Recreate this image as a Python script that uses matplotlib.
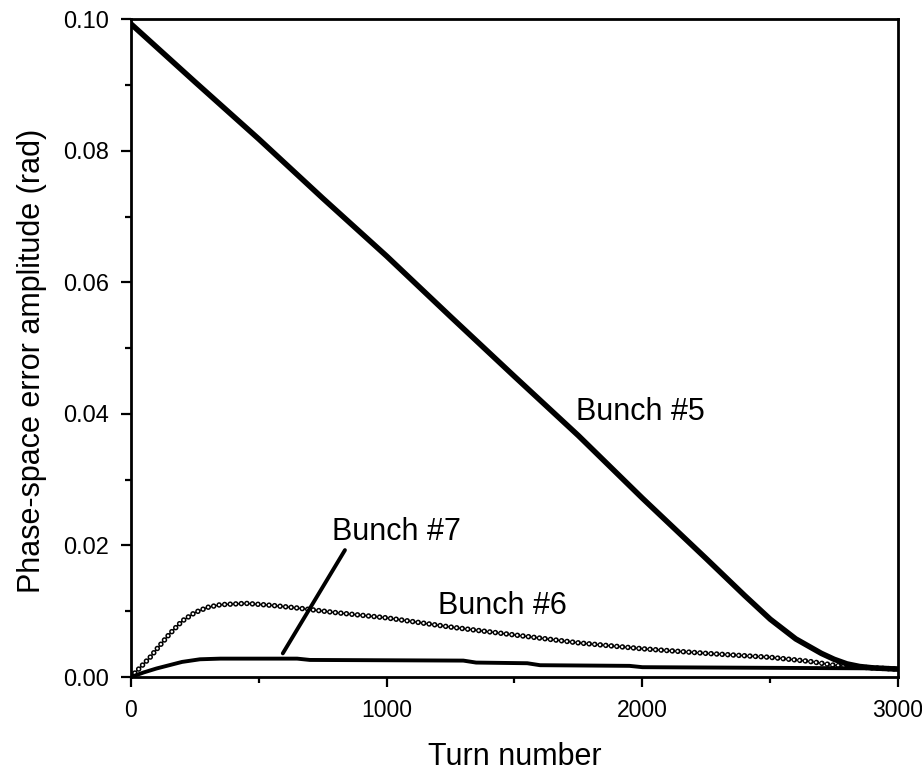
import matplotlib
matplotlib.use("Agg")
import matplotlib.pyplot as plt
from matplotlib.ticker import MultipleLocator, FormatStrFormatter

plt.rcParams['font.family'] = ['Liberation Sans', 'DejaVu Sans']

# Bunch #5
turns5 = [0, 250, 500, 750, 1000, 1250, 1500, 1750, 2000, 2250, 2400, 2500,
          2600, 2700, 2750, 2800, 2850, 2900, 3000]
amp5 = [0.0993, 0.0905, 0.0818, 0.0728, 0.0640, 0.0548, 0.0457, 0.0367, 0.0272,
        0.0180, 0.0124, 0.0088, 0.0058, 0.0036, 0.0027, 0.0020, 0.0016, 0.0014, 0.0012]

# Bunch #6
turns6 = [0, 25, 50, 75, 100, 150, 200, 250, 300, 350, 450, 550, 650, 800, 1000,
          1250, 1500, 1750, 2000, 2250, 2500, 2650, 2750, 2850, 3000]
amp6 = [0.0, 0.0010, 0.0020, 0.0030, 0.0042, 0.0065, 0.0085, 0.0098, 0.0106, 0.0110,
        0.0112, 0.0109, 0.0105, 0.0098, 0.0090, 0.0076, 0.0064, 0.0052, 0.0043,
        0.0036, 0.0030, 0.0024, 0.0018, 0.0015, 0.0012]

# Bunch #7
turns7 = [0, 50, 100, 150, 200, 270, 350, 650, 700, 1300, 1350, 1550, 1600,
          1950, 2000, 3000]
amp7 = [0.0, 0.0007, 0.0013, 0.0018, 0.0023, 0.0027, 0.0028, 0.0028, 0.0026,
        0.0025, 0.0022, 0.0021, 0.0018, 0.0017, 0.0015, 0.0013]

fig = plt.figure(figsize=(9.22, 7.72), dpi=100)
ax = fig.add_axes([0.142, 0.123, 0.832, 0.852])

# bunch 6: thin line with a chain of small open circles
ax.plot(turns6, amp6, color="black", lw=0.9)
P = 4.0
ax.plot(turns6, amp6, color="black", lw=4.0, dashes=(0.001, P / 4.0),
        dash_capstyle="round")
ax.plot(turns6, amp6, color="white", lw=1.8, dashes=(0.001, P / 1.8),
        dash_capstyle="round")

ax.plot(turns7, amp7, color="black", lw=2.8, solid_joinstyle="miter")
ax.plot(turns5, amp5, color="black", lw=4.0)

ax.text(1991, 0.0403, "Bunch #5", fontsize=22, ha="center", va="center")
ax.text(1451, 0.0108, "Bunch #6", fontsize=22, ha="center", va="center")
ax.text(1040, 0.0220, "Bunch #7", fontsize=22, ha="center", va="center")
ax.annotate("", xy=(594, 0.0036), xytext=(837, 0.0193),
            arrowprops=dict(arrowstyle="-", lw=2.8, color="black",
                            shrinkA=0, shrinkB=0))

ax.set_xlim(0, 3000)
ax.set_ylim(0, 0.10)
ax.xaxis.set_major_locator(MultipleLocator(1000))
ax.xaxis.set_minor_locator(MultipleLocator(500))
ax.yaxis.set_major_locator(MultipleLocator(0.02))
ax.yaxis.set_minor_locator(MultipleLocator(0.01))
ax.yaxis.set_major_formatter(FormatStrFormatter("%.2f"))

ax.tick_params(which="both", direction="out", width=1.6, top=False, right=False)
ax.tick_params(which="major", length=7.5)
ax.tick_params(which="minor", length=4.5)
ax.tick_params(axis="x", labelsize=16.5, pad=8)
ax.tick_params(axis="y", labelsize=17, pad=8)
for s in ax.spines.values():
    s.set_linewidth(2.0)

ax.set_xlabel("Turn number", fontsize=22)
ax.set_ylabel("Phase-space error amplitude (rad)", fontsize=22)
ax.xaxis.set_label_coords(0.5, -0.099)
ax.yaxis.set_label_coords(-0.11, 0.48)

fig.savefig("out.png", dpi=100)
